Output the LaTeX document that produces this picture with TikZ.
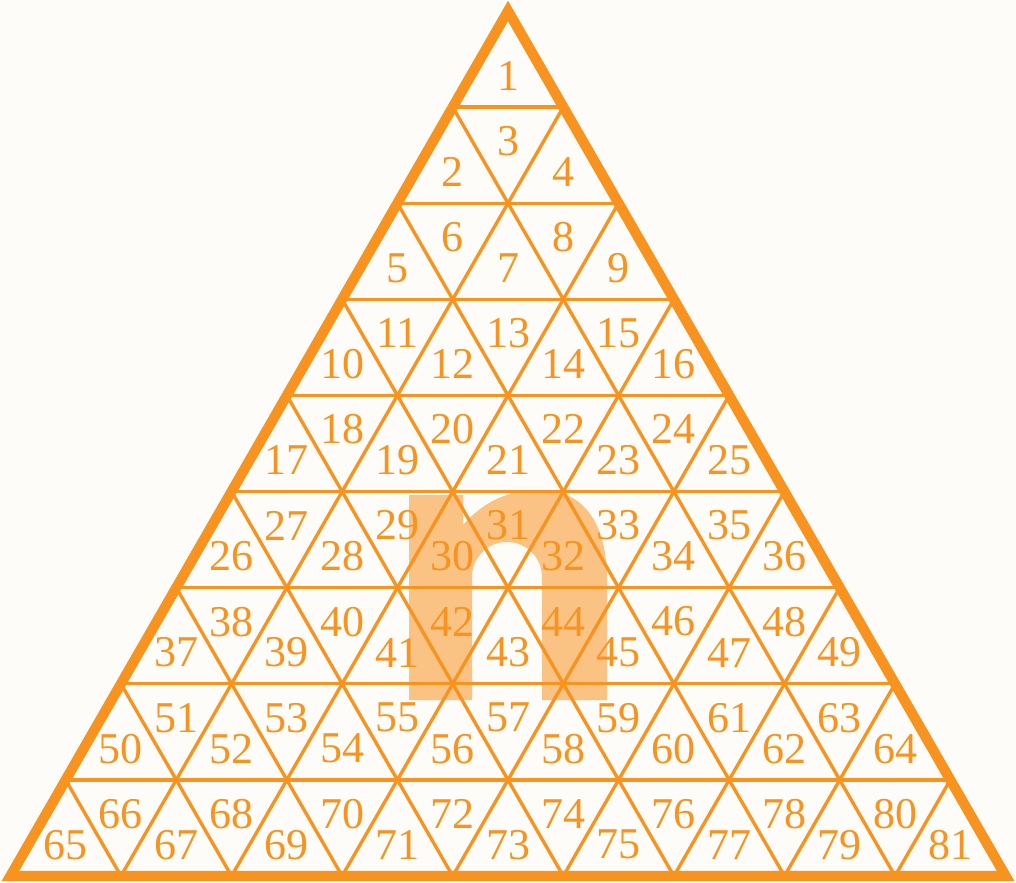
\documentclass[tikz,border=0pt]{standalone}
\usepackage{fontspec}
\setmainfont{Liberation Serif}
\usepackage{tikz}
\usetikzlibrary{calc}
\definecolor{pyrorange}{HTML}{F7931E}
\definecolor{pyrlight}{HTML}{FAC283}
\definecolor{pyrpaper}{HTML}{FDFCF8}
\tikzset{
  pyrgrid/.style={draw=pyrorange,line width=0.95pt},
  pyrframe/.style={draw=pyrorange,line width=2.9pt,line join=miter},
  cellnum/.style={text=pyrorange,font=\fontsize{12.5}{13}\selectfont,inner sep=0pt}
}
\begin{document}
\begin{tikzpicture}[x=0.01cm,y=-0.01cm]
\fill[pyrpaper] (0,0) rectangle (1016,882);
\useasboundingbox (0,0) rectangle (1016,882);
\coordinate (apex) at (508,11);
\coordinate (bl) at (10.4,876);
\coordinate (br) at (1005.6,876);
% watermark letter
\fill[pyrlight] (409,700) -- (409,495) -- (463,495) -- (463,525)
  .. controls (485,500) and (510,490) .. (540,490)
  .. controls (585,490) and (607,525) .. (607,580)
  -- (607,700) -- (542,700) -- (542,577) arc (0:-180:35)
  -- (472,700) -- cycle;
% grid
\foreach \k in {1,...,8}{
  \draw[pyrgrid] ($(apex)!\k/9!(bl)$) -- ($(apex)!\k/9!(br)$);
  \draw[pyrgrid] ($(apex)!\k/9!(bl)$) -- ($(bl)!{(9-\k)/9}!(br)$);
  \draw[pyrgrid] ($(apex)!\k/9!(br)$) -- ($(bl)!\k/9!(br)$);
}
\draw[pyrframe] (apex) -- (br) -- (bl) -- cycle;
% numbers
\foreach \r in {1,...,9}{
  \pgfmathtruncatemacro\jmax{2*\r-1}
  \foreach \j in {1,...,\jmax}{
    \pgfmathtruncatemacro\n{(\r-1)*(\r-1)+\j}
    \pgfmathsetmacro\lx{508+(\j-\r)*55.3}
    \pgfmathsetmacro\ly{11+(\r-1)*96.1+(mod(\j,2)==1 ? 65 : 34)}
    \node[cellnum] (c\n) at (\lx,\ly) {\n};
  }
}
\end{tikzpicture}
\end{document}
